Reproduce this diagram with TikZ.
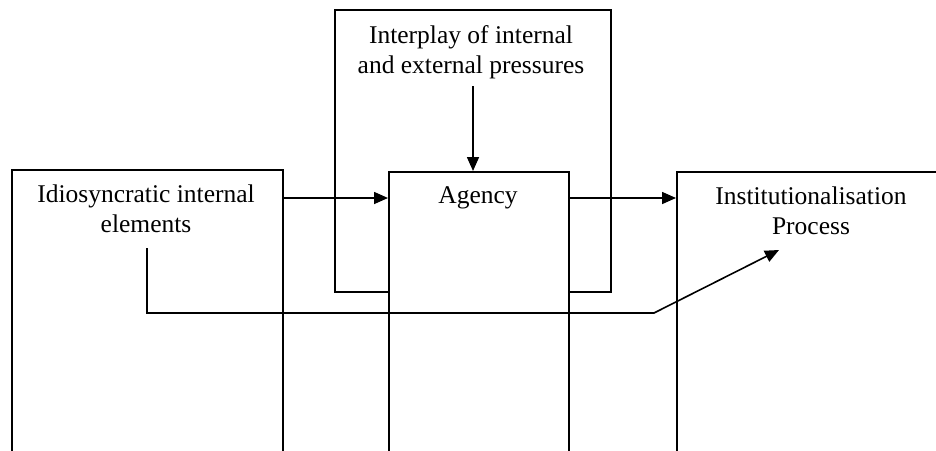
\documentclass[tikz,border=0pt]{standalone}
\usepackage{fontspec}
\setmainfont{Liberation Serif}
\usetikzlibrary{arrows.meta}
\begin{document}
\begin{tikzpicture}[x=1pt,y=-1pt,
  boxst/.style={draw,line width=1.6pt,rectangle,inner sep=0pt,anchor=north west},
  arr/.style={line width=1.6pt,-{Triangle[length=14pt 0,width=12pt 0]}},
  lbl/.style={inner sep=0pt,anchor=north,align=center,font=\fontsize{25.5}{30}\selectfont}]
\useasboundingbox[fill=white] (0,0) rectangle (936,450);
\clip (0,0) rectangle (936,450);
% boxes
\node[boxst,minimum width=271pt,minimum height=320pt] (leftbox) at (11,169) {};
\node[boxst,minimum width=276pt,minimum height=282pt] (interbox) at (334,9) {};
\node[boxst,fill=white,minimum width=180pt,minimum height=320pt] (agency) at (388,171) {};
\node[boxst,minimum width=300pt,minimum height=320pt] (inst) at (676,171) {};
% texts
\node[lbl] (idio) at (146,185) {Idiosyncratic internal\\elements};
\node[lbl] (itext) at (471,25) {Interplay of internal\\and external pressures};
\node[lbl] (agtext) at (478,186) {Agency};
\node[lbl] (insttext) at (811,187) {Institutionalisation\\Process};
% connectors
\coordinate (row) at (0,198);
\draw[arr] (leftbox.east |- row) -- (agency.west |- row);
\draw[arr] (agency.east |- row) -- (inst.west |- row);
\coordinate (ia) at (473,86);
\draw[arr] (ia) -- (agency.north -| ia);
\coordinate (e1) at (147,248);
\coordinate (e2) at (147,313);
\coordinate (e3) at (654,313);
\coordinate (e4) at (779,250);
\draw[arr] (e1) -- (e2) -- (e3) -- (e4);
\end{tikzpicture}
\end{document}
